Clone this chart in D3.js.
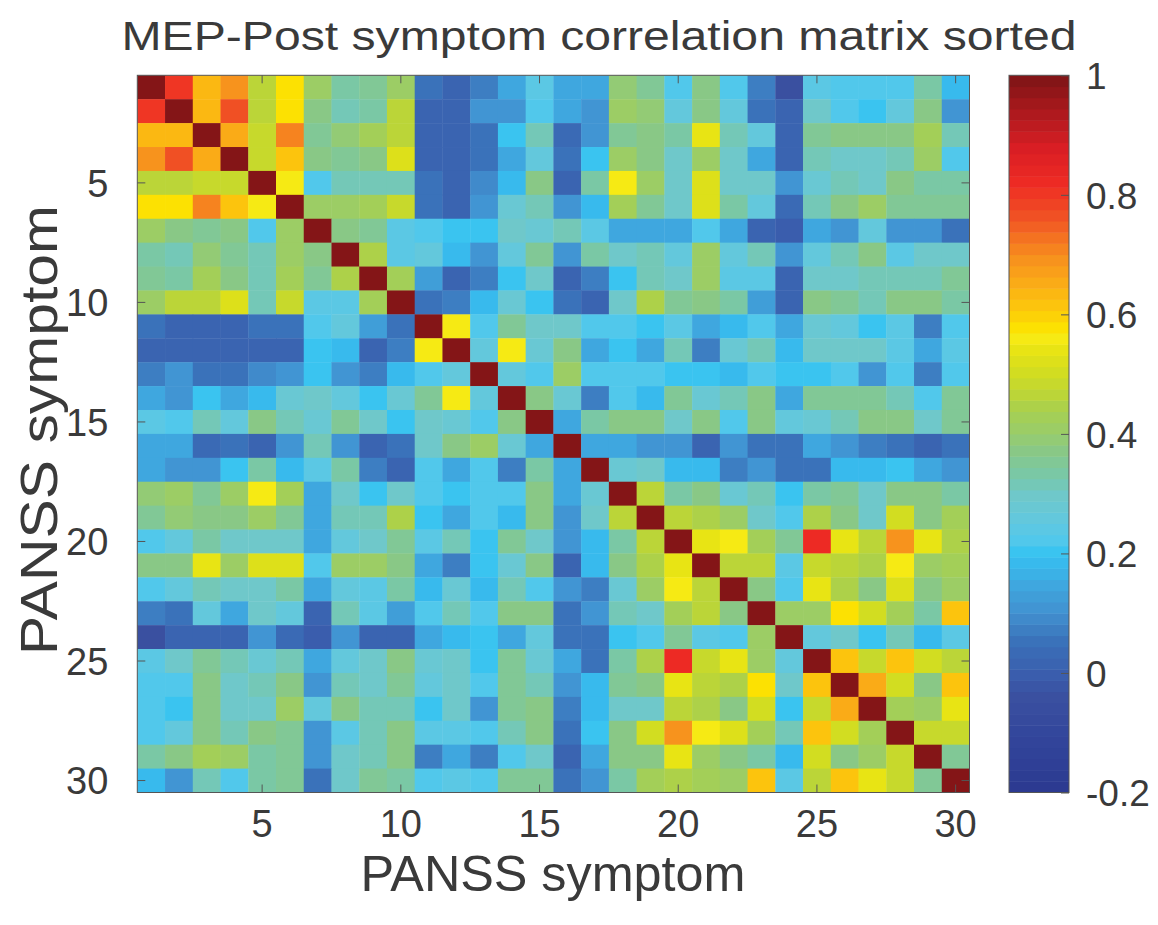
<!DOCTYPE html>
<html>
<head>
<meta charset="utf-8">
<script src="https://cdn.jsdelivr.net/npm/d3@7"></script>
<style>
  html, body { margin: 0; padding: 0; background: #fff; }
  svg { display: block; }
  text { fill: #3a3a3a; font-family: "Liberation Sans", Arial, Helvetica, sans-serif; }
</style>
</head>
<body>
<svg id="chart" width="1158" height="925"></svg>
<script>
// PANSS symptoms 1..30 (sorted order)
const symptoms = [1,2,3,4,5,6,7,8,9,10,11,12,13,14,15,16,17,18,19,20,21,22,23,24,25,26,27,28,29,30];

// Upper triangle of the symmetric correlation matrix: row i holds r(i, j) for j = i+1 .. 30
const upperRows = [
  [0.80,0.64,0.69,0.46,0.58,0.40,0.33,0.36,0.41, 0.05,0.01,0.07,0.14,0.24,0.14,0.14,0.39,0.35,0.22, 0.37,0.22,0.07,-0.04,0.24,0.22,0.22,0.22,0.33,0.18],
  [0.64,0.76,0.46,0.58,0.37,0.32,0.33,0.46, 0.02,0.02,0.10,0.10,0.22,0.14,0.11,0.40,0.39,0.26, 0.38,0.26,0.05,0.01,0.29,0.22,0.20,0.26,0.37,0.10],
  [0.66,0.48,0.70,0.35,0.39,0.42,0.46, 0.02,0.02,0.06,0.20,0.32,0.04,0.11,0.35,0.37,0.33, 0.54,0.32,0.26,0.01,0.35,0.38,0.38,0.37,0.43,0.32],
  [0.48,0.62,0.37,0.35,0.38,0.52, 0.02,0.02,0.06,0.14,0.25,0.06,0.20,0.40,0.38,0.30, 0.40,0.30,0.14,0.01,0.32,0.30,0.29,0.32,0.40,0.23],
  [0.55,0.22,0.32,0.32,0.32, 0.06,0.01,0.09,0.18,0.37,0.01,0.33,0.56,0.40,0.30, 0.52,0.30,0.30,0.10,0.27,0.32,0.29,0.37,0.33,0.33],
  [0.40,0.40,0.43,0.48, 0.05,0.02,0.10,0.27,0.32,0.10,0.18,0.43,0.35,0.30, 0.53,0.33,0.26,0.04,0.32,0.38,0.40,0.35,0.35,0.35],
  [0.37,0.35,0.24, 0.23,0.20,0.20,0.29,0.27,0.31,0.24,0.14,0.14,0.14, 0.22,0.14,0.02,-0.01,0.14,0.10,0.26,0.10,0.10,0.05],
  [0.44,0.24, 0.26,0.18,0.10,0.26,0.35,0.10,0.33,0.29,0.32,0.26, 0.40,0.25,0.32,0.10,0.25,0.32,0.37,0.24,0.29,0.30],
  [0.42, 0.12,0.02,0.07,0.20,0.29,0.02,0.08,0.20,0.32,0.29, 0.40,0.24,0.24,0.02,0.30,0.29,0.31,0.32,0.32,0.35],
  [0.05,0.08,0.18,0.28,0.20,0.06,0.02,0.29,0.44,0.36, 0.38,0.33,0.12,0.02,0.38,0.35,0.32,0.38,0.37,0.33],
  [0.56,0.23,0.35,0.29,0.30,0.22,0.22,0.20,0.24, 0.14,0.18,0.22,0.14,0.27,0.25,0.20,0.24,0.07,0.22],
  [0.26,0.56,0.27,0.37,0.14,0.20,0.14,0.32, 0.07,0.27,0.32,0.18,0.30,0.30,0.29,0.24,0.14,0.24],
  [0.25,0.23,0.40,0.23,0.22,0.22,0.20, 0.20,0.18,0.22,0.20,0.20,0.22,0.11,0.22,0.08,0.23],
  [0.37,0.27,0.08,0.22,0.18,0.35, 0.27,0.32,0.37,0.14,0.35,0.35,0.35,0.32,0.22,0.35],
  [0.14,0.33,0.38,0.37,0.30, 0.38,0.23,0.38,0.25,0.27,0.32,0.37,0.37,0.30,0.35],
  [0.14,0.14,0.10,0.10, 0.02,0.10,0.06,0.05,0.14,0.10,0.08,0.06,0.02,0.05],
  [0.28,0.29,0.18, 0.18,0.07,0.10,0.06,0.06,0.18,0.18,0.20,0.14,0.10],
  [0.46,0.33, 0.37,0.27,0.32,0.20,0.33,0.35,0.29,0.37,0.37,0.33],
  [0.46, 0.44,0.40,0.29,0.22,0.44,0.38,0.29,0.51,0.37,0.42],
  [0.54,0.56,0.42,0.35,0.82,0.54,0.46,0.69,0.54,0.44],
  [0.46,0.46,0.24,0.48,0.46,0.44,0.55,0.40,0.42],
  [0.38,0.22,0.54,0.44,0.37,0.52,0.37,0.40],
  [0.40,0.40,0.58,0.51,0.42,0.33,0.61],
  [0.25,0.29,0.20,0.32,0.18,0.24],
  [0.61,0.48,0.62,0.51,0.46],
  [0.66,0.50,0.38,0.62],
  [0.42,0.40,0.54],
  [0.48,0.48],
  [0.35]
];

const axisTicks = [5, 10, 15, 20, 25, 30];
const colorTicks = [-0.2, 0, 0.2, 0.4, 0.6, 0.8, 1];
const colorTickLabels = ["-0.2", "0", "0.2", "0.4", "0.6", "0.8", "1"];
const colorLimits = [-0.2, 1];
const titleText = "MEP-Post symptom correlation matrix sorted";
const axisTitle = "PANSS symptom";

// Jet-style palette (as printed), sampled at data values
const paletteStops = [
  [-0.20, "#2b3990"], [-0.10, "#33469c"], [-0.04, "#3a50a0"], [0.00, "#3a5eae"],
  [0.05, "#3a70b8"], [0.10, "#4190d0"], [0.14, "#40a4dc"], [0.18, "#38b8ec"],
  [0.20, "#36c3f1"], [0.22, "#50c8ec"], [0.25, "#60c8e0"], [0.30, "#70c8c8"],
  [0.33, "#78c8a8"], [0.37, "#88c888"], [0.40, "#98cc6c"], [0.44, "#a8d050"],
  [0.46, "#b8d43c"], [0.50, "#d0dc22"], [0.54, "#e8e414"], [0.56, "#f6ea14"],
  [0.58, "#fde000"], [0.61, "#fcc80c"], [0.64, "#fbb414"], [0.68, "#f89a1c"],
  [0.70, "#f78c1e"], [0.76, "#f05424"], [0.82, "#ee2a24"], [0.88, "#d81e24"],
  [1.00, "#7d1416"]
];
const nLevels = 64;

// Full symmetric matrix
const n = symptoms.length;
const cells = [];
for (let i = 0; i < n; i++) {
  for (let j = 0; j < n; j++) {
    let v;
    if (i === j) v = 1;
    else if (j > i) v = upperRows[i][j - i - 1];
    else v = upperRows[j][i - j - 1];
    cells.push({ row: symptoms[i], col: symptoms[j], value: v });
  }
}

const svg = d3.select("#chart");
const plot = { left: 137.3, right: 969.5, top: 75.3, bottom: 792.5 };
const cbar = { left: 1009, right: 1069 };

const x = d3.scaleBand().domain(symptoms).range([plot.left, plot.right]);
const y = d3.scaleBand().domain(symptoms).range([plot.top, plot.bottom]);

const stopColor = d3.scaleLinear()
  .domain(paletteStops.map(d => d[0]))
  .range(paletteStops.map(d => d[1]))
  .interpolate(d3.interpolateRgb)
  .clamp(true);

const binWidth = (colorLimits[1] - colorLimits[0]) / nLevels;
const palette = d3.range(nLevels).map(k => stopColor(colorLimits[0] + (k + 0.5) * binWidth));
const quant = d3.scaleQuantize().domain(colorLimits).range(palette);
const colorOf = v => quant(Math.max(colorLimits[0], Math.min(colorLimits[1] - 1e-9, v)));

// Heatmap cells
svg.append("g")
  .selectAll("rect")
  .data(cells)
  .join("rect")
  .attr("x", d => x(d.col))
  .attr("y", d => y(d.row))
  .attr("width", x.bandwidth() + 0.4)
  .attr("height", y.bandwidth() + 0.4)
  .attr("fill", d => colorOf(d.value));

// Axes with inward ticks
const tickLen = 8;
const axisColor = "#555";
const gB = svg.append("g").attr("transform", `translate(0,${plot.bottom})`)
  .call(d3.axisBottom(x).tickValues(axisTicks).tickSizeInner(-tickLen).tickSizeOuter(0).tickPadding(18));
const gL = svg.append("g").attr("transform", `translate(${plot.left},0)`)
  .call(d3.axisLeft(y).tickValues(axisTicks).tickSizeInner(-tickLen).tickSizeOuter(0).tickPadding(29));
const gT = svg.append("g").attr("transform", `translate(0,${plot.top})`)
  .call(d3.axisTop(x).tickValues(axisTicks).tickSizeInner(-tickLen).tickSizeOuter(0).tickFormat(""));
const gR = svg.append("g").attr("transform", `translate(${plot.right},0)`)
  .call(d3.axisRight(y).tickValues(axisTicks).tickSizeInner(-tickLen).tickSizeOuter(0).tickFormat(""));

[gB, gL, gT, gR].forEach(g => {
  g.select(".domain").remove();
  g.selectAll(".tick line").attr("stroke", axisColor).attr("stroke-width", 1);
  g.selectAll(".tick text").attr("font-size", 38).attr("fill", "#3a3a3a")
    .attr("font-family", "'Liberation Sans', Arial, sans-serif");
});
gL.selectAll(".tick text").attr("dy", "0.36em");

svg.append("rect")
  .attr("x", plot.left).attr("y", plot.top)
  .attr("width", plot.right - plot.left).attr("height", plot.bottom - plot.top)
  .attr("fill", "none").attr("stroke", axisColor).attr("stroke-width", 1);

// Colorbar
const cy = d3.scaleLinear().domain(colorLimits).range([plot.bottom, plot.top]);
svg.append("g")
  .selectAll("rect")
  .data(palette)
  .join("rect")
  .attr("x", cbar.left)
  .attr("width", cbar.right - cbar.left)
  .attr("y", (d, k) => cy(colorLimits[0] + (k + 1) * binWidth))
  .attr("height", (d, k) => cy(colorLimits[0] + k * binWidth) - cy(colorLimits[0] + (k + 1) * binWidth) + 0.5)
  .attr("fill", d => d);

const gC = svg.append("g").attr("transform", `translate(${cbar.right},0)`)
  .call(d3.axisRight(cy).tickValues(colorTicks).tickSizeInner(-tickLen).tickSizeOuter(0).tickPadding(17)
    .tickFormat((d, i) => colorTickLabels[i]));
gC.select(".domain").remove();
gC.selectAll(".tick line").attr("stroke", axisColor);
gC.selectAll(".tick text").attr("font-size", 37).attr("fill", "#3a3a3a")
  .attr("font-family", "'Liberation Sans', Arial, sans-serif").attr("dy", "0.36em");

svg.append("rect")
  .attr("x", cbar.left).attr("y", plot.top)
  .attr("width", cbar.right - cbar.left).attr("height", plot.bottom - plot.top)
  .attr("fill", "none").attr("stroke", axisColor).attr("stroke-width", 1);

// Titles
svg.append("text")
  .attr("x", 599).attr("y", 50)
  .attr("text-anchor", "middle")
  .attr("font-family", "'Open Sans', 'Noto Sans', sans-serif")
  .attr("font-size", 40)
  .attr("fill", "#2a2a2a")
  .attr("textLength", 955).attr("lengthAdjust", "spacingAndGlyphs")
  .text(titleText);

svg.append("text")
  .attr("x", 553).attr("y", 891)
  .attr("text-anchor", "middle")
  .attr("font-size", 50)
  .attr("textLength", 385).attr("lengthAdjust", "spacingAndGlyphs")
  .text(axisTitle);

svg.append("text")
  .attr("transform", "translate(57,430) rotate(-90)")
  .attr("text-anchor", "middle")
  .attr("font-size", 52)
  .attr("textLength", 450).attr("lengthAdjust", "spacingAndGlyphs")
  .text(axisTitle);
</script>
</body>
</html>
